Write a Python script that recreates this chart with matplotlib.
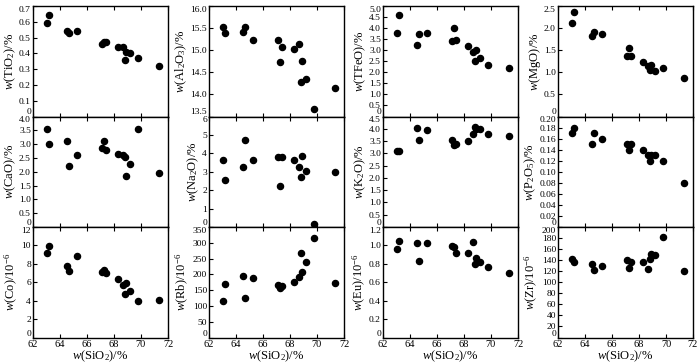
import matplotlib
matplotlib.use('Agg')
import matplotlib.pyplot as plt
import numpy as np

plt.rcParams['font.family'] = ['Liberation Serif', 'DejaVu Serif']
plt.rcParams['mathtext.fontset'] = 'custom'
plt.rcParams['mathtext.rm'] = 'Liberation Serif'
plt.rcParams['mathtext.it'] = 'Liberation Serif:italic'

# SiO2 content of the samples (%)
sio2 = [63.0, 63.2, 64.55, 64.7, 65.25, 67.1, 67.25, 67.4, 68.3, 68.7, 68.8, 68.9, 69.2, 69.75, 71.3]

tio2 = [0.59, 0.64, 0.54, 0.53, 0.54, 0.46, 0.47, 0.47, 0.44, 0.44, 0.36, 0.41, 0.40, 0.37, 0.32]
al2o3 = [15.53, 15.40, 15.41, 15.52, 15.23, 15.24, 14.73, 15.08, 15.03, 15.13, 14.27, 14.75, 14.34, 13.67, 14.14]
tfeo = [3.8, 4.6, 3.25, 3.75, 3.8, 3.4, 4.0, 3.45, 3.2, 2.9, 2.5, 3.0, 2.65, 2.35, 2.2]
mgo = [2.12, 2.36, 1.81, 1.91, 1.87, 1.38, 1.56, 1.38, 1.24, 1.14, 1.05, 1.16, 1.02, 1.10, 0.87]
cao = [3.55, 3.0, 3.1, 2.2, 2.6, 2.85, 3.1, 2.8, 2.65, 2.6, 2.55, 1.85, 2.27, 3.55, 1.95]
na2o = [3.65, 2.55, 3.25, 4.75, 3.65, 3.78, 2.2, 3.78, 3.63, 3.28, 2.7, 3.85, 3.05, 0.15, 3.0]
k2o = [3.1, 3.1, 4.05, 3.55, 3.97, 3.55, 3.35, 3.4, 3.52, 3.78, 4.08, 3.98, 3.98, 3.77, 3.7]
p2o5 = [0.17, 0.18, 0.15, 0.17, 0.16, 0.15, 0.14, 0.15, 0.14, 0.13, 0.12, 0.13, 0.13, 0.12, 0.08]
co = [9.2, 9.9, 7.8, 7.2, 8.8, 7.15, 7.35, 7.05, 6.35, 5.7, 4.75, 5.95, 5.05, 4.0, 4.05]
rb = [116, 170, 196, 126, 188, 166, 157, 164, 176, 193, 268, 208, 238, 315, 174]
eu = [0.96, 1.05, 1.03, 0.83, 1.03, 0.99, 0.98, 0.92, 0.92, 1.04, 0.80, 0.86, 0.82, 0.77, 0.70]
zr = [142, 136, 133, 122, 129, 141, 126, 136, 136, 124, 142, 151, 150, 181, 120]

# (values, ylabel, ymin, ymax, step, tick format)
panels = [
    (tio2, r'$w$(TiO$_2$)/%', 0, 0.7, 0.1, '%.1f'),
    (al2o3, r'$w$(Al$_2$O$_3$)/%', 13.5, 16.0, 0.5, '%.1f'),
    (tfeo, r'$w$(TFeO)/%', 0, 5.0, 0.5, '%.1f'),
    (mgo, r'$w$(MgO)/%', 0, 2.5, 0.5, '%.1f'),
    (cao, r'$w$(CaO)/%', 0, 4.0, 0.5, '%.1f'),
    (na2o, r'$w$(Na$_2$O)/%', 0, 6, 1, '%d'),
    (k2o, r'$w$(K$_2$O)/%', 0, 4.5, 0.5, '%.1f'),
    (p2o5, r'$w$(P$_2$O$_5$)/%', 0, 0.20, 0.02, '%.2f'),
    (co, r'$w$(Co)/10$^{-6}$', 0, 12, 2, '%d'),
    (rb, r'$w$(Rb)/10$^{-6}$', 0, 350, 50, '%d'),
    (eu, r'$w$(Eu)/10$^{-6}$', 0, 1.2, 0.2, '%.1f'),
    (zr, r'$w$(Zr)/10$^{-6}$', 0, 200, 20, '%d'),
]

W, H = 700, 364
fig = plt.figure(figsize=(7, 3.64), dpi=100)
col_left = [33, 209, 383, 558]
col_w = 135
row_top = [6, 116.5, 227]
row_h = 110.5

for k, (vals, lab, y0, y1, step, fmt) in enumerate(panels):
    r, c = divmod(k, 4)
    left = col_left[c] / W
    bottom = 1 - (row_top[r] + row_h) / H
    ax = fig.add_axes([left, bottom, col_w / W, row_h / H])
    ax.plot(sio2, vals, 'o', color='black', ms=4.4, mec='black')
    ax.set_xlim(62, 72)
    ax.set_ylim(y0, y1)
    ax.set_xticks(np.arange(62, 73, 2))
    yt = np.arange(y0, y1 + step / 2, step)
    ax.set_yticks(yt)
    tl = ax.set_yticklabels(['0' if abs(v) < 1e-9 else fmt % v for v in yt])
    # stacked panels: keep the end labels inside their own panel
    tl[-1].set_va('top')
    tl[0].set_va('bottom')
    ax.tick_params(direction='in', top=True, length=3, width=0.8, labelsize=6.8, pad=1.5)
    if r < 2:
        ax.tick_params(labelbottom=False)
    else:
        ax.tick_params(axis='x', labelsize=7.5)
        ax.set_xlabel(r'$w$(SiO$_2$)/%', fontsize=9, labelpad=0)
    ax.set_ylabel(lab, fontsize=9, labelpad=1)
    for s in ax.spines.values():
        s.set_linewidth(1.0)

fig.savefig('out.png', dpi=100)
